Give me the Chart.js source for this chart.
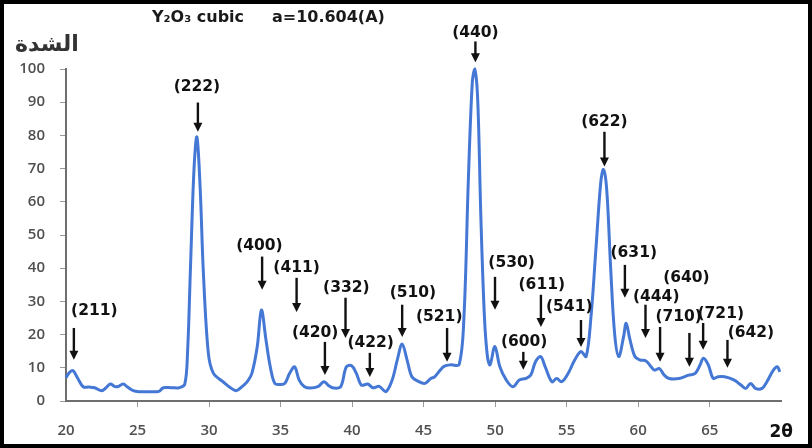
<!DOCTYPE html>
<html>
<head>
<meta charset="utf-8">
<script src="https://cdn.jsdelivr.net/npm/chart.js@4/dist/chart.umd.min.js"></script>
<style>
  html, body { margin: 0; padding: 0; background: #fff; }
  #frame { width: 812px; height: 448px; box-sizing: border-box; border: 4px solid #000; background: #fff; }
  canvas { display: block; }
</style>
</head>
<body>
<div id="frame"><canvas id="xrd" width="804" height="440"></canvas></div>
<script>
// 2θ (deg) and relative intensity
const twoTheta = [
  20.0, 20.25, 20.5, 20.8, 21.2, 21.6, 22.0, 22.5, 22.8, 23.1, 23.4, 23.6, 24.0, 24.3, 24.7,
  25.1, 25.8, 26.5, 26.8, 27.4, 27.9, 28.3, 28.5, 28.7, 28.95, 29.15, 29.38, 29.6, 29.95, 30.3,
  30.98, 31.5, 31.9, 32.3, 32.7, 33.0, 33.37, 33.66, 33.98, 34.28, 34.6, 35.0, 35.3, 35.64, 35.98,
  36.3, 36.67, 37.1, 37.6, 38.03, 38.4, 38.7, 39.2, 39.6, 39.97, 40.3, 40.65, 41.1, 41.45, 41.9,
  42.36, 42.8, 43.16, 43.5, 43.84, 44.18, 44.6, 45.09, 45.5, 45.77, 46.2, 46.46, 46.9, 47.48, 47.82,
  48.12, 48.4, 48.57, 48.78, 49.0, 49.25, 49.46, 49.64, 49.98, 50.33, 50.78, 51.24, 51.69, 52.15, 52.49,
  52.83, 53.18, 53.5, 53.97, 54.3, 54.65, 55.1, 55.57, 56.0, 56.36, 56.7, 57.04, 57.38, 57.57, 57.8,
  58.07, 58.35, 58.64, 58.98, 59.16, 59.43, 59.77, 60.1, 60.57, 60.9, 61.14, 61.48, 61.82, 62.16, 62.85,
  63.53, 63.99, 64.33, 64.56, 64.9, 65.24, 65.58, 66.04, 66.72, 67.18, 67.52, 67.86, 68.2, 68.66, 69.0,
  69.45, 69.73, 69.9
];
const intensity = [
  7.0, 8.6, 9.1, 7.0, 4.3, 4.2, 4.0, 3.1, 4.0, 5.1, 4.4, 4.3, 5.1, 4.2, 3.1,
  2.8, 2.8, 2.9, 4.0, 4.0, 4.0, 5.0, 15, 40, 70, 79.5, 64, 39, 14.4, 8.4,
  5.8, 4.0, 3.1, 4.3, 6.0, 8.4, 16.4, 27.4, 18.4, 10.3, 5.3, 5.0, 5.3, 8.4, 10.3,
  6.3, 4.3, 3.9, 4.3, 5.8, 4.5, 3.9, 4.3, 10.3, 10.6, 8.3, 4.8, 5.1, 4.0, 4.4,
  2.8, 6.3, 12.4, 17.2, 12.4, 7.3, 6.0, 5.3, 6.8, 7.3, 9.5, 10.5, 10.9, 11.0, 25.4,
  65.7, 95.8, 100, 90.8, 55.6, 25.4, 13.4, 10.9, 16.4, 10.3, 6.3, 4.3, 6.3, 6.8, 7.8,
  11.9, 13.4, 10.3, 5.8, 6.8, 5.8, 8.3, 12.4, 14.9, 13.4, 25.4, 45.5, 65.7, 69.7, 63.6,
  40.5, 20.4, 13.4, 19.4, 23.4, 18.4, 13.4, 12.4, 12.0, 10.3, 9.3, 9.8, 7.8, 6.8, 6.8,
  7.8, 8.3, 10.9, 12.9, 10.9, 6.8, 7.3, 7.3, 6.3, 4.8, 3.8, 5.3, 3.8, 3.8, 5.8,
  9.3, 10.3, 8.8
];

// Miller indices and where each arrow / label sits (in 2θ / intensity units)
const hklLabels = ['(211)', '(222)', '(400)', '(411)', '(420)', '(332)', '(422)', '(510)', '(521)', '(440)',
                   '(530)', '(600)', '(611)', '(541)', '(622)', '(631)', '(444)', '(710)', '(640)', '(721)', '(642)'];
const hklArrowX = [20.55, 29.22, 33.71, 36.12, 38.1, 39.54, 41.24, 43.5, 46.64, 48.62,
                   49.99, 51.97, 53.2, 56.0, 57.64, 59.07, 60.51, 61.53, 63.58, 64.54, 66.24];
const hklTailY  = [22.0, 89.9, 43.5, 37.1, 17.8, 31.1, 14.5, 29.0, 22.0, 108.3,
                   37.4, 14.8, 32.0, 24.4, 81.1, 41.0, 29.0, 22.3, 20.5, 23.5, 18.4];
const hklTipY   = [12.4, 81.1, 33.5, 26.8, 7.8, 19.0, 7.2, 19.3, 11.8, 102,
                   27.5, 9.4, 22.3, 16.3, 70.6, 31.1, 19.0, 11.8, 10.3, 15.4, 10.0];
const hklLabelX = [21.98, 29.15, 33.52, 36.12, 37.42, 39.6, 41.3, 44.25, 46.09, 48.62,
                   51.15, 52.03, 53.26, 55.18, 57.64, 59.69, 61.26, 62.83, 63.37, 65.77, 67.88];
const hklLabelY = [27.1, 94.7, 46.8, 40.1, 20.5, 34.1, 17.5, 32.6, 25.3, 111,
                   41.6, 17.8, 35.0, 28.4, 83.9, 44.6, 31.4, 25.3, 37.1, 26.2, 20.5];

const xTicks = [20, 25, 30, 35, 40, 45, 50, 55, 60, 65, 70];
const yTicks = [0, 10, 20, 30, 40, 50, 60, 70, 80, 90, 100];

const titleText = 'Y₂O₃ cubic     a=10.604(A)';
const yAxisName = 'الشدة';
const xAxisName = '2θ';

// 矢印とミラー指数、タイトルを描くプラグイン
const hklPlugin = {
  id: 'hkl',
  afterDraw(chart) {
    const ctx = chart.ctx;
    const xs = chart.scales.x, ys = chart.scales.y;
    ctx.save();
    ctx.fillStyle = '#111';
    ctx.strokeStyle = '#111';
    ctx.lineWidth = 2.4;
    for (let i = 0; i < hklLabels.length; i++) {
      const x = xs.getPixelForValue(hklArrowX[i]);
      const y0 = ys.getPixelForValue(hklTailY[i]);
      const y1 = ys.getPixelForValue(hklTipY[i]);
      const head = 9;
      ctx.beginPath();
      ctx.moveTo(x, y0);
      ctx.lineTo(x, y1 - head + 1);
      ctx.stroke();
      ctx.beginPath();
      ctx.moveTo(x - 4.5, y1 - head);
      ctx.lineTo(x + 4.5, y1 - head);
      ctx.lineTo(x, y1);
      ctx.closePath();
      ctx.fill();
    }
    ctx.font = 'bold 15.5px "DejaVu Sans"';
    ctx.textAlign = 'center';
    ctx.textBaseline = 'middle';
    for (let i = 0; i < hklLabels.length; i++) {
      ctx.fillText(hklLabels[i], xs.getPixelForValue(hklLabelX[i]), ys.getPixelForValue(hklLabelY[i]));
    }
    // タイトル
    ctx.fillStyle = '#1a1a1a';
    ctx.textAlign = 'left';
    ctx.font = 'bold 16px "DejaVu Sans"';
    ctx.fillText(titleText, 148, 14);
    // 縦軸名
    ctx.fillStyle = '#333';
    ctx.font = 'bold 22px "DejaVu Sans"';
    ctx.fillText(yAxisName, 11, 41);
    ctx.restore();
  }
};

const ctx = document.getElementById('xrd').getContext('2d');
const chart = new Chart(ctx, {
  type: 'scatter',
  data: {
    datasets: [{
      data: twoTheta.map((t, i) => ({ x: t, y: intensity[i] })),
      showLine: true,
      borderColor: '#4478d4',
      borderWidth: 3,
      pointRadius: 0,
      tension: 0.35,
      clip: false
    }]
  },
  options: {
    responsive: false,
    animation: false,
    events: [],
    layout: { padding: { left: 0, top: 65, right: 10, bottom: 0 } },
    plugins: { legend: { display: false }, tooltip: { enabled: false } },
    scales: {
      x: {
        type: 'linear',
        min: 20, max: 70,
        afterFit(scale) { scale.height = 43; },
        afterBuildTicks(scale) { scale.ticks = xTicks.map(v => ({ value: v })); },
        border: { display: true, color: '#6e6e6e', width: 2 },
        grid: {
          drawOnChartArea: false, drawTicks: true, tickLength: 6,
          tickColor: c => (c.tick && (c.tick.value === 20 || c.tick.value === 70)) ? 'rgba(0,0,0,0)' : '#9a9a9a'
        },
        ticks: {
          padding: 15,
          maxRotation: 0,
          autoSkip: false,
          callback: v => v === 70 ? xAxisName : String(v),
          color: c => c.tick && c.tick.value === 70 ? '#111' : '#505050',
          font: c => c.tick && c.tick.value === 70
            ? { family: 'DejaVu Sans', size: 17, weight: 'bold' }
            : { family: 'Open Sans', size: 15, weight: '600' }
        }
      },
      y: {
        min: 0, max: 100,
        afterFit(scale) { scale.width = 62; },
        afterBuildTicks(scale) { scale.ticks = yTicks.map(v => ({ value: v })); },
        border: { display: true, color: '#6e6e6e', width: 2 },
        grid: { drawOnChartArea: false, drawTicks: true, tickLength: 6, tickColor: '#9a9a9a' },
        ticks: {
          padding: 15,
          color: '#505050',
          font: { family: 'Open Sans', size: 15, weight: '600' }
        }
      }
    }
  },
  plugins: [hklPlugin]
});
</script>
</body>
</html>
